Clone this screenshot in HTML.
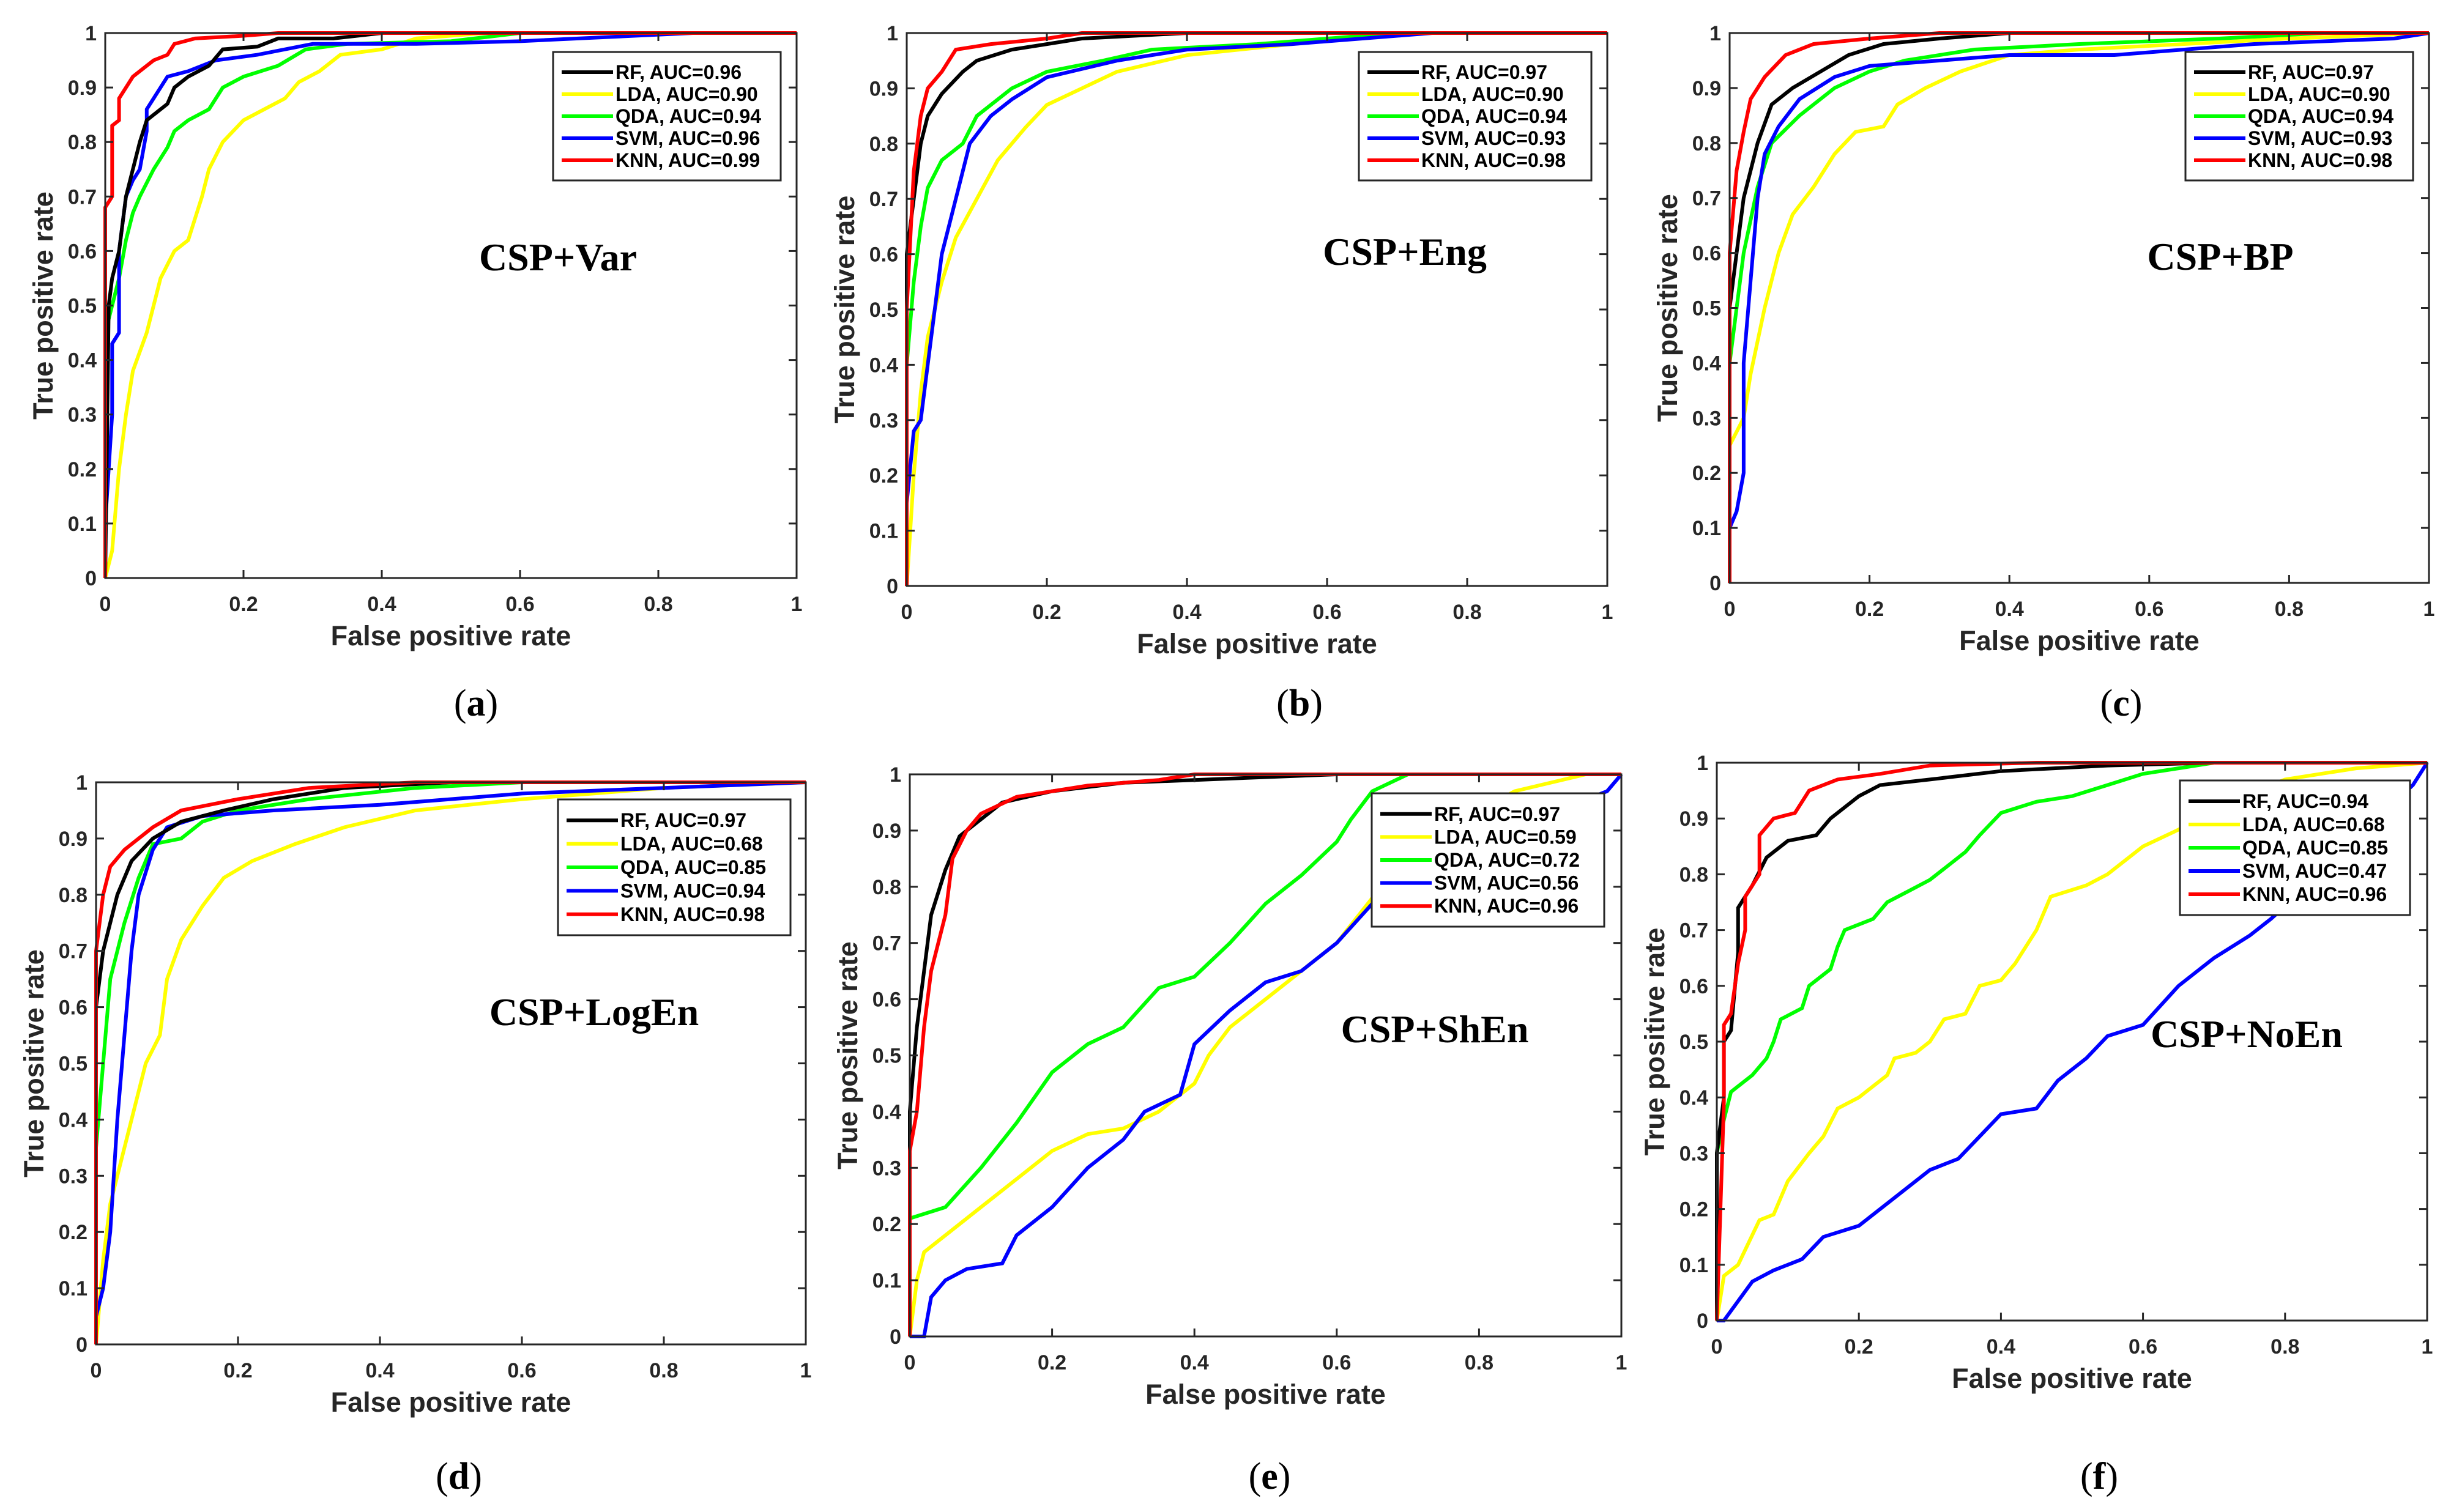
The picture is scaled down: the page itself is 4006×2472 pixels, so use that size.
<!DOCTYPE html>
<html><head><meta charset="utf-8"><style>
html,body{margin:0;padding:0;background:#fff}
svg{display:block}
</style></head><body>
<svg id="fig" width="4006" height="2472" viewBox="0 0 4006 2472" xmlns="http://www.w3.org/2000/svg"></svg>
<script>
const seriesNames = ["RF","LDA","QDA","SVM","KNN"];
const seriesColors = ["#000000","#ffff00","#00ff00","#0000ff","#ff0000"];
const xTicks = [0,0.2,0.4,0.6,0.8,1];
const xTickLabels = ["0","0.2","0.4","0.6","0.8","1"];
const yTicks = [0,0.1,0.2,0.3,0.4,0.5,0.6,0.7,0.8,0.9,1];
const yTickLabels = ["0","0.1","0.2","0.3","0.4","0.5","0.6","0.7","0.8","0.9","1"];
const panelTitles = ["CSP+Var","CSP+Eng","CSP+BP","CSP+LogEn","CSP+ShEn","CSP+NoEn"];
const panelLetters = ["a","b","c","d","e","f"];
const aucA = ["0.96","0.90","0.94","0.96","0.99"];
const aucB = ["0.97","0.90","0.94","0.93","0.98"];
const aucC = ["0.97","0.90","0.94","0.93","0.98"];
const aucD = ["0.97","0.68","0.85","0.94","0.98"];
const aucE = ["0.97","0.59","0.72","0.56","0.96"];
const aucF = ["0.94","0.68","0.85","0.47","0.96"];

const rocA = [
 [[0,0],[0.005,0.5],[0.01,0.55],[0.02,0.6],[0.03,0.7],[0.05,0.8],[0.06,0.84],[0.09,0.87],[0.1,0.9],[0.12,0.92],[0.15,0.94],[0.17,0.97],[0.22,0.975],[0.25,0.99],[0.33,0.99],[0.4,1],[1,1]],
 [[0,0],[0.01,0.05],[0.02,0.2],[0.03,0.3],[0.04,0.38],[0.06,0.45],[0.07,0.5],[0.08,0.55],[0.1,0.6],[0.12,0.62],[0.13,0.66],[0.14,0.7],[0.15,0.75],[0.17,0.8],[0.2,0.84],[0.23,0.86],[0.26,0.88],[0.28,0.91],[0.31,0.93],[0.34,0.96],[0.4,0.97],[0.45,0.99],[0.55,1],[1,1]],
 [[0,0],[0,0.45],[0.01,0.5],[0.02,0.55],[0.03,0.62],[0.04,0.67],[0.05,0.7],[0.07,0.75],[0.09,0.79],[0.1,0.82],[0.12,0.84],[0.15,0.86],[0.17,0.9],[0.2,0.92],[0.25,0.94],[0.29,0.97],[0.35,0.98],[0.5,0.985],[0.6,1],[1,1]],
 [[0,0],[0,0.1],[0.01,0.3],[0.01,0.43],[0.02,0.45],[0.02,0.6],[0.03,0.7],[0.04,0.73],[0.05,0.75],[0.06,0.82],[0.06,0.86],[0.07,0.88],[0.09,0.92],[0.12,0.93],[0.16,0.95],[0.22,0.96],[0.3,0.98],[0.45,0.98],[0.6,0.985],[0.85,1],[1,1]],
 [[0,0],[0,0.68],[0.01,0.7],[0.01,0.83],[0.02,0.84],[0.02,0.88],[0.03,0.9],[0.04,0.92],[0.05,0.93],[0.07,0.95],[0.09,0.96],[0.1,0.98],[0.13,0.99],[0.2,0.995],[0.25,1],[1,1]]
];
const rocB = [
 [[0,0],[0,0.6],[0.01,0.7],[0.02,0.8],[0.03,0.85],[0.05,0.89],[0.08,0.93],[0.1,0.95],[0.15,0.97],[0.2,0.98],[0.25,0.99],[0.4,1],[1,1]],
 [[0,0],[0.01,0.2],[0.02,0.35],[0.03,0.45],[0.05,0.55],[0.07,0.63],[0.1,0.7],[0.13,0.77],[0.17,0.83],[0.2,0.87],[0.25,0.9],[0.3,0.93],[0.4,0.96],[0.55,0.98],[0.7,1],[1,1]],
 [[0,0],[0,0.4],[0.01,0.55],[0.02,0.65],[0.03,0.72],[0.05,0.77],[0.08,0.8],[0.1,0.85],[0.15,0.9],[0.2,0.93],[0.28,0.95],[0.35,0.97],[0.5,0.98],[0.7,1],[1,1]],
 [[0,0],[0,0.15],[0.01,0.28],[0.02,0.3],[0.03,0.4],[0.04,0.5],[0.05,0.6],[0.07,0.7],[0.09,0.8],[0.12,0.85],[0.15,0.88],[0.2,0.92],[0.3,0.95],[0.4,0.97],[0.55,0.98],[0.75,1],[1,1]],
 [[0,0],[0,0.5],[0.01,0.75],[0.02,0.85],[0.03,0.9],[0.05,0.93],[0.07,0.97],[0.12,0.98],[0.2,0.99],[0.25,1],[1,1]]
];
const rocC = [
 [[0,0],[0,0.5],[0.01,0.6],[0.02,0.7],[0.04,0.8],[0.06,0.87],[0.09,0.9],[0.13,0.93],[0.17,0.96],[0.22,0.98],[0.3,0.99],[0.4,1],[1,1]],
 [[0,0],[0,0.25],[0.02,0.3],[0.03,0.38],[0.05,0.5],[0.07,0.6],[0.09,0.67],[0.12,0.72],[0.15,0.78],[0.18,0.82],[0.22,0.83],[0.24,0.87],[0.28,0.9],[0.33,0.93],[0.4,0.96],[0.5,0.97],[0.65,0.98],[0.8,0.99],[1,1]],
 [[0,0],[0,0.4],[0.01,0.5],[0.02,0.6],[0.04,0.72],[0.06,0.8],[0.1,0.85],[0.15,0.9],[0.2,0.93],[0.25,0.95],[0.35,0.97],[0.5,0.98],[0.7,0.99],[0.85,1],[1,1]],
 [[0,0],[0,0.1],[0.01,0.13],[0.02,0.2],[0.02,0.4],[0.03,0.55],[0.04,0.7],[0.05,0.78],[0.07,0.83],[0.1,0.88],[0.15,0.92],[0.2,0.94],[0.3,0.95],[0.4,0.96],[0.55,0.96],[0.75,0.98],[0.95,0.99],[1,1]],
 [[0,0],[0,0.6],[0.01,0.75],[0.02,0.82],[0.03,0.88],[0.05,0.92],[0.08,0.96],[0.12,0.98],[0.2,0.99],[0.3,1],[1,1]]
];
const rocD = [
 [[0,0],[0,0.6],[0.01,0.7],[0.03,0.8],[0.05,0.86],[0.08,0.9],[0.12,0.93],[0.18,0.95],[0.25,0.97],[0.35,0.99],[0.5,1],[1,1]],
 [[0,0],[0.01,0.15],[0.02,0.25],[0.03,0.3],[0.05,0.4],[0.07,0.5],[0.09,0.55],[0.1,0.65],[0.12,0.72],[0.15,0.78],[0.18,0.83],[0.22,0.86],[0.28,0.89],[0.35,0.92],[0.45,0.95],[0.6,0.97],[0.8,0.99],[1,1]],
 [[0,0],[0,0.35],[0.01,0.5],[0.02,0.65],[0.04,0.75],[0.06,0.83],[0.08,0.89],[0.12,0.9],[0.15,0.93],[0.2,0.95],[0.3,0.97],[0.45,0.99],[0.6,1],[1,1]],
 [[0,0],[0,0.05],[0.01,0.1],[0.02,0.2],[0.03,0.4],[0.04,0.55],[0.05,0.7],[0.06,0.8],[0.08,0.88],[0.1,0.92],[0.15,0.94],[0.25,0.95],[0.4,0.96],[0.6,0.98],[0.8,0.99],[1,1]],
 [[0,0],[0,0.7],[0.01,0.8],[0.02,0.85],[0.04,0.88],[0.06,0.9],[0.08,0.92],[0.12,0.95],[0.2,0.97],[0.3,0.99],[0.45,1],[1,1]]
];
const rocE = [
 [[0,0],[0,0.4],[0.01,0.55],[0.02,0.65],[0.03,0.75],[0.05,0.83],[0.07,0.89],[0.1,0.92],[0.13,0.95],[0.2,0.97],[0.3,0.985],[0.4,0.99],[0.6,1],[1,1]],
 [[0,0],[0.01,0.1],[0.02,0.15],[0.05,0.18],[0.1,0.23],[0.15,0.28],[0.2,0.33],[0.25,0.36],[0.3,0.37],[0.35,0.4],[0.4,0.45],[0.42,0.5],[0.45,0.55],[0.5,0.6],[0.55,0.65],[0.6,0.7],[0.65,0.78],[0.75,0.9],[0.85,0.97],[0.95,1],[1,1]],
 [[0,0],[0,0.21],[0.05,0.23],[0.1,0.3],[0.15,0.38],[0.2,0.47],[0.25,0.52],[0.3,0.55],[0.35,0.62],[0.4,0.64],[0.45,0.7],[0.5,0.77],[0.55,0.82],[0.6,0.88],[0.62,0.92],[0.65,0.97],[0.7,1],[1,1]],
 [[0,0],[0.02,0],[0.03,0.07],[0.05,0.1],[0.08,0.12],[0.13,0.13],[0.15,0.18],[0.2,0.23],[0.25,0.3],[0.3,0.35],[0.33,0.4],[0.38,0.43],[0.4,0.52],[0.45,0.58],[0.5,0.63],[0.55,0.65],[0.6,0.7],[0.65,0.77],[0.7,0.8],[0.8,0.87],[0.9,0.93],[0.98,0.97],[1,1]],
 [[0,0],[0,0.33],[0.01,0.4],[0.02,0.55],[0.03,0.65],[0.05,0.75],[0.06,0.85],[0.08,0.9],[0.1,0.93],[0.15,0.96],[0.25,0.98],[0.35,0.99],[0.4,1],[1,1]]
];
const rocF = [
 [[0,0],[0,0.3],[0.01,0.4],[0.01,0.5],[0.02,0.52],[0.03,0.66],[0.03,0.74],[0.05,0.78],[0.07,0.83],[0.1,0.86],[0.14,0.87],[0.16,0.9],[0.2,0.94],[0.23,0.96],[0.3,0.97],[0.4,0.985],[0.55,0.995],[0.7,1],[1,1]],
 [[0,0],[0.01,0.08],[0.03,0.1],[0.06,0.18],[0.08,0.19],[0.1,0.25],[0.13,0.3],[0.15,0.33],[0.17,0.38],[0.2,0.4],[0.24,0.44],[0.25,0.47],[0.28,0.48],[0.3,0.5],[0.32,0.54],[0.35,0.55],[0.37,0.6],[0.4,0.61],[0.42,0.64],[0.45,0.7],[0.47,0.76],[0.52,0.78],[0.55,0.8],[0.6,0.85],[0.65,0.88],[0.7,0.92],[0.8,0.97],[0.9,0.99],[1,1]],
 [[0,0],[0,0.3],[0.01,0.36],[0.02,0.41],[0.05,0.44],[0.07,0.47],[0.08,0.5],[0.09,0.54],[0.12,0.56],[0.13,0.6],[0.16,0.63],[0.17,0.67],[0.18,0.7],[0.22,0.72],[0.24,0.75],[0.27,0.77],[0.3,0.79],[0.33,0.82],[0.35,0.84],[0.37,0.87],[0.4,0.91],[0.45,0.93],[0.5,0.94],[0.55,0.96],[0.6,0.98],[0.65,0.99],[0.7,1],[1,1]],
 [[0,0],[0.01,0],[0.05,0.07],[0.08,0.09],[0.12,0.11],[0.15,0.15],[0.2,0.17],[0.25,0.22],[0.3,0.27],[0.34,0.29],[0.37,0.33],[0.4,0.37],[0.45,0.38],[0.48,0.43],[0.52,0.47],[0.55,0.51],[0.6,0.53],[0.65,0.6],[0.7,0.65],[0.75,0.69],[0.78,0.72],[0.85,0.8],[0.93,0.9],[0.98,0.96],[1,1]],
 [[0,0],[0.01,0.39],[0.01,0.53],[0.02,0.55],[0.03,0.64],[0.04,0.7],[0.04,0.76],[0.06,0.8],[0.06,0.87],[0.08,0.9],[0.11,0.91],[0.13,0.95],[0.17,0.97],[0.23,0.98],[0.3,0.995],[0.45,1],[1,1]]
];

const panels = [
 {box:[172,1302,54,945], leg:[904,85,372,210], title:[912,420], letter:[778,1150], roc:rocA, auc:aucA},
 {box:[1482,2627,54,958], leg:[2221,85,380,210], title:[2296,411], letter:[2124,1150], roc:rocB, auc:aucB},
 {box:[2827,3970,54,953], leg:[3572,85,372,210], title:[3629,419], letter:[3467,1150], roc:rocC, auc:aucC},
 {box:[157,1317,1279,2198], leg:[912,1307,380,222], title:[971,1654], letter:[750,2414], roc:rocD, auc:aucD},
 {box:[1487,2650,1266,2185], leg:[2242,1297,380,218], title:[2345,1682], letter:[2075,2414], roc:rocE, auc:aucE},
 {box:[2806,3967,1247,2159], leg:[3563,1276,376,220], title:[3672,1690], letter:[3431,2414], roc:rocF, auc:aucF}
];

const NS = "http://www.w3.org/2000/svg";
const svg = document.getElementById('fig');
function mk(tag, attrs, parent, text){
  const e = document.createElementNS(NS, tag);
  for (const k in attrs) e.setAttribute(k, attrs[k]);
  if (text !== undefined) e.textContent = text;
  parent.appendChild(e);
  return e;
}
const SANS = '"Liberation Sans", Arial, sans-serif';
const SERIF = '"Liberation Serif", "Times New Roman", serif';

panels.forEach((p, pi) => {
  const [x0,x1,y1,y0] = p.box;
  const sx = v => x0 + v*(x1-x0);
  const sy = v => y0 - v*(y0-y1);
  const g = mk('g', {}, svg);
  
  

  const cg = mk('g', {}, g);
  
  
  const order = [1,2,3,0,4];
  order.forEach(si => {
    const pts = p.roc[si].map(d => sx(d[0]).toFixed(1)+','+sy(d[1]).toFixed(1)).join(' ');
    const pl = mk('polyline', {points:pts, fill:'none', stroke:seriesColors[si], 'stroke-width':6, 'stroke-linejoin':'miter'}, cg);
    
    
  });

  const ax = mk('rect', {x:x0, y:y1, width:x1-x0, height:y0-y1, fill:'none', stroke:'#262626', 'stroke-width':3}, g);
  
  

  const tg = mk('g', {stroke:'#262626','stroke-width':3}, g);
  
  
  xTicks.forEach(t => {
    mk('line', {x1:sx(t), x2:sx(t), y1:y0, y2:y0-13}, tg);
    mk('line', {x1:sx(t), x2:sx(t), y1:y1, y2:y1+13}, tg);
  });
  yTicks.forEach(t => {
    mk('line', {x1:x0, x2:x0+13, y1:sy(t), y2:sy(t)}, tg);
    mk('line', {x1:x1, x2:x1-13, y1:sy(t), y2:sy(t)}, tg);
  });

  const xl = mk('g', {'font-family':SANS, 'font-weight':'bold', 'font-size':34, fill:'#262626', 'text-anchor':'middle'}, g);
  
  
  xTicks.forEach((t,i) => mk('text', {x:sx(t), y:y0+54}, xl, xTickLabels[i]));
  const yl = mk('g', {'font-family':SANS, 'font-weight':'bold', 'font-size':34, fill:'#262626', 'text-anchor':'end'}, g);
  
  
  yTicks.forEach((t,i) => mk('text', {x:x0-14, y:sy(t)+12}, yl, yTickLabels[i]));

  const xt = mk('text', {x:(x0+x1)/2, y:y0+110, 'font-family':SANS, 'font-weight':'bold', 'font-size':45, fill:'#262626', 'text-anchor':'middle'}, g, 'False positive rate');
  
  
  const cy = (y0+y1)/2, cx = x0-86;
  const yt = mk('text', {x:cx, y:cy, transform:`rotate(-90 ${cx} ${cy})`, 'font-family':SANS, 'font-weight':'bold', 'font-size':45, fill:'#262626', 'text-anchor':'middle'}, g, 'True positive rate');
  
  

  const [lx,ly,lw,lh] = p.leg;
  const lg = mk('g', {}, g);
  
  
  mk('rect', {x:lx, y:ly, width:lw, height:lh, fill:'#fff', stroke:'#262626', 'stroke-width':3}, lg);
  const step = (lh-30)/5;
  seriesNames.forEach((n, si) => {
    const yy = ly + 15 + step*(si+0.5);
    const e = mk('g', {}, lg);
    
    
    mk('line', {x1:lx+14, x2:lx+98, y1:yy, y2:yy, stroke:seriesColors[si], 'stroke-width':6}, e);
    mk('text', {x:lx+102, y:yy+11, 'font-family':SANS, 'font-weight':'bold', 'font-size':32, fill:'#000'}, e, n + ', AUC=' + p.auc[si]);
  });

  const ti = mk('text', {x:p.title[0], y:p.title[1]+22, 'font-family':SERIF, 'font-weight':'bold', 'font-size':64, fill:'#000', 'text-anchor':'middle'}, g, panelTitles[pi]);
  
  

  const le = mk('text', {x:p.letter[0], y:p.letter[1]+20, 'font-family':SERIF, 'font-size':62, fill:'#000', 'text-anchor':'middle'}, g);
  
  
  mk('tspan', {}, le, '(');
  mk('tspan', {'font-weight':'bold'}, le, panelLetters[pi]);
  mk('tspan', {}, le, ')');
});
</script>
</body></html>
